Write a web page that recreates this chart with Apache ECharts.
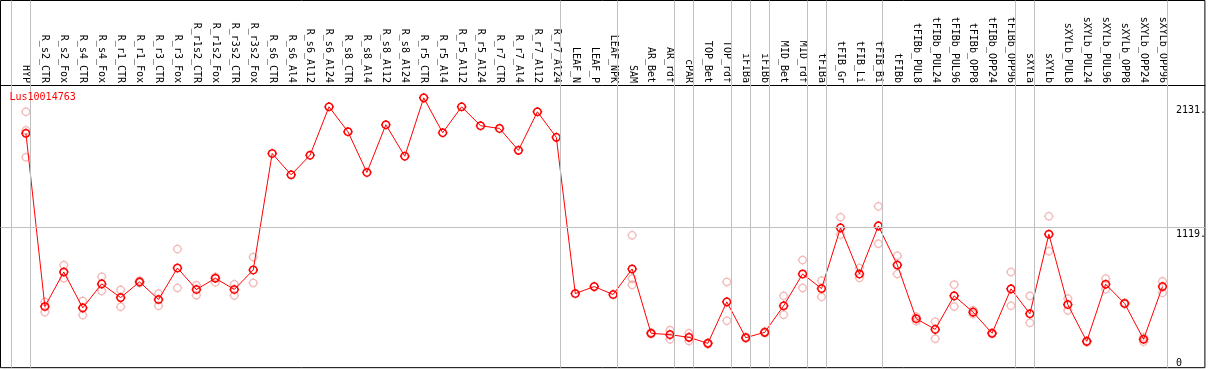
<!DOCTYPE html>
<html>
<head>
<meta charset="utf-8">
<title>Lus10014763</title>
<script src="https://cdn.jsdelivr.net/npm/echarts@6/dist/echarts.min.js"></script>
<style>
  html, body { margin: 0; padding: 0; background: #fff; }
  #chart { width: 1209px; height: 370px; }
</style>
</head>
<body>
<div id="chart"></div>
<script>
const geneName = 'Lus10014763';

const categories = [
  'HYP', 'R_s2_CTR', 'R_s2_Fox', 'R_s4_CTR', 'R_s4_Fox', 'R_r1_CTR', 'R_r1_Fox',
  'R_r3_CTR', 'R_r3_Fox', 'R_r1s2_CTR', 'R_r1s2_Fox', 'R_r3s2_CTR', 'R_r3s2_Fox',
  'R_s6_CTR', 'R_s6_Al4', 'R_s6_Al12', 'R_s6_Al24', 'R_s8_CTR', 'R_s8_Al4', 'R_s8_Al12',
  'R_s8_Al24', 'R_r5_CTR', 'R_r5_Al4', 'R_r5_Al12', 'R_r5_Al24', 'R_r7_CTR', 'R_r7_Al4',
  'R_r7_Al12', 'R_r7_Al24', 'LEAF_N', 'LEAF_P', 'LEAF_NPK', 'SAM', 'AR_Bet', 'AR_rdf',
  'cPAR', 'TOP_Bet', 'TOP_rdf', 'iFIBa', 'iFIBb', 'MID_Bet', 'MID_rdf', 'tFIBa',
  'tFIB_Gr', 'tFIB_Li', 'tFIB_Bi', 'tFIBb', 'tFIBb_PUL8', 'tFIBb_PUL24', 'tFIBb_PUL96',
  'tFIBb_OPP8', 'tFIBb_OPP24', 'tFIBb_OPP96', 'sXYLa', 'sXYLb', 'sXYLb_PUL8',
  'sXYLb_PUL24', 'sXYLb_PUL96', 'sXYLb_OPP8', 'sXYLb_OPP24', 'sXYLb_OPP96'
];

// mean expression per sample
const meanValues = [
  1886, 470, 752, 459, 655, 543, 671, 527, 785, 609, 701, 609, 769,
  1721, 1547, 1707, 2103, 1899, 1566, 1956, 1699, 2176, 1891, 2103, 1948, 1926, 1747, 2062, 1853,
  576, 633, 568, 777, 251, 240, 218, 169, 508, 215, 259, 476, 736, 617,
  1113, 736, 1129, 809, 370, 283, 557, 424, 251, 614, 411, 1061, 486, 185, 652, 495, 202, 633
];

// individual replicates (null = not shown)
const repHigh = [
  2062, 508, 809, 516, 714, 606, 682, 576, 940, 644, 712, 652, 874,
  null, null, null, null, null, null, null, null, null, null, null, null, null, null, null, null,
  null, null, null, 1053, 258, 277, 251, 175, 671, 222, 265, 557, 850, 682,
  1200, 785, 1289, 885, 386, 346, 649, 440, 258, 752, 557, 1208, 535, 190, 698, 500, 218, 676
];
const repLow = [
  1690, 424, 701, 400, 598, 468, 662, 476, 622, 562, 668, 560, 663,
  null, null, null, null, null, null, null, null, null, null, null, null, null, null, null, null,
  null, null, null, 647, 245, 202, 188, 163, 354, 209, 253, 403, 622, 549,
  1058, 704, 983, 736, 351, 207, 470, 408, 245, 476, 337, 923, 438, 180, 611, 490, 183, 582
];
const repExtra = [[0, 1910], [32, 698]];

// last sample index of each group (a grey separator follows it)
const groupEnds = [-1, 0, 28, 31, 34, 35, 37, 38, 39, 41, 42, 45, 52, 53, 60];
const yTickValues = [0, 1119, 2131];

const FONT = 'DejaVu Sans Mono';

// ring (as a 24-gon) with four small ticks
function ringMark(r, t) {
  let d = '';
  for (let k = 0; k <= 24; k++) {
    const a = (k / 24) * Math.PI * 2;
    d += (k === 0 ? 'M' : 'L') + (r * Math.sin(a)).toFixed(3) + ',' + (-r * Math.cos(a)).toFixed(3);
  }
  d += 'Z';
  d += `M0,${-t}L0,${-r}M0,${r}L0,${t}M${-t},0L${-r},0M${r},0L${t},0`;
  return 'path://' + d;
}
const MARK = ringMark(3.7, 4.8);

const meanData = meanValues.map((v, i) => [i, v]);
const repData = [];
repHigh.forEach((v, i) => { if (v !== null) repData.push([i, v]); });
repLow.forEach((v, i) => { if (v !== null) repData.push([i, v]); });
repExtra.forEach((p) => repData.push(p));

const chart = echarts.init(document.getElementById('chart'), null, { renderer: 'canvas' });

const option = {
  animation: false,
  backgroundColor: '#fff',
  title: {
    text: geneName,
    left: 9.5,
    top: 92.5,
    padding: 0,
    textStyle: { fontFamily: FONT, fontSize: 10, fontWeight: 'normal', color: '#ff0000' }
  },
  grid: {
    left: 0.5, right: 0.5, top: 0.5, bottom: 0.5,
    show: true,
    borderColor: '#000',
    borderWidth: 1,
    backgroundColor: '#fff'
  },
  xAxis: {
    type: 'value',
    position: 'top',
    offset: -84.5,
    min: -1.342,
    max: 62.237,
    axisLine: { show: true, onZero: false, lineStyle: { color: '#000', width: 1 } },
    axisTick: { show: false },
    splitLine: { show: false },
    axisLabel: {
      customValues: categories.map((_, i) => i),
      formatter: (v) => categories[v] || '',
      rotate: 90,
      margin: 2,
      fontFamily: FONT,
      fontSize: 10,
      color: '#000'
    }
  },
  yAxis: {
    type: 'value',
    position: 'right',
    min: -30.1,
    max: 2971.9,
    axisLine: { show: false },
    axisTick: { show: false },
    splitLine: { show: false },
    axisLabel: {
      customValues: yTickValues,
      inside: true,
      align: 'left',
      margin: 29,
      fontFamily: FONT,
      fontSize: 10,
      color: '#000',
      formatter: (v) => (v === 0 ? '{z|0}' : '{t|' + v + '.}'),
      rich: {
        t: { fontFamily: FONT, fontSize: 10, lineHeight: 10, padding: [14, 0, 0, 0] },
        z: { fontFamily: FONT, fontSize: 10, lineHeight: 10, padding: [0, 0, 2, 0] }
      }
    }
  },
  series: [
    {
      name: 'replicates',
      type: 'scatter',
      data: repData,
      symbol: MARK,
      symbolSize: 9.6,
      itemStyle: { color: 'rgba(0,0,0,0)', borderColor: 'rgba(232,110,110,0.6)', borderWidth: 1.3 },
      z: 2,
      markLine: {
        silent: true,
        symbol: ['none', 'none'],
        label: { show: false },
        lineStyle: { color: '#c0c0c0', type: 'solid', width: 1 },
        data: [{ yAxis: yTickValues[1] }].concat(groupEnds.map((g) => ({ xAxis: g + 0.23 })))
      }
    },
    {
      name: geneName,
      type: 'line',
      data: meanData,
      showSymbol: true,
      showAllSymbol: true,
      symbol: MARK,
      symbolSize: 9.6,
      lineStyle: { color: '#ff0000', width: 1 },
      itemStyle: { color: 'rgba(0,0,0,0)', borderColor: '#ff0000', borderWidth: 1.5 },
      z: 3
    }
  ]
};

chart.setOption(option);
</script>
</body>
</html>
